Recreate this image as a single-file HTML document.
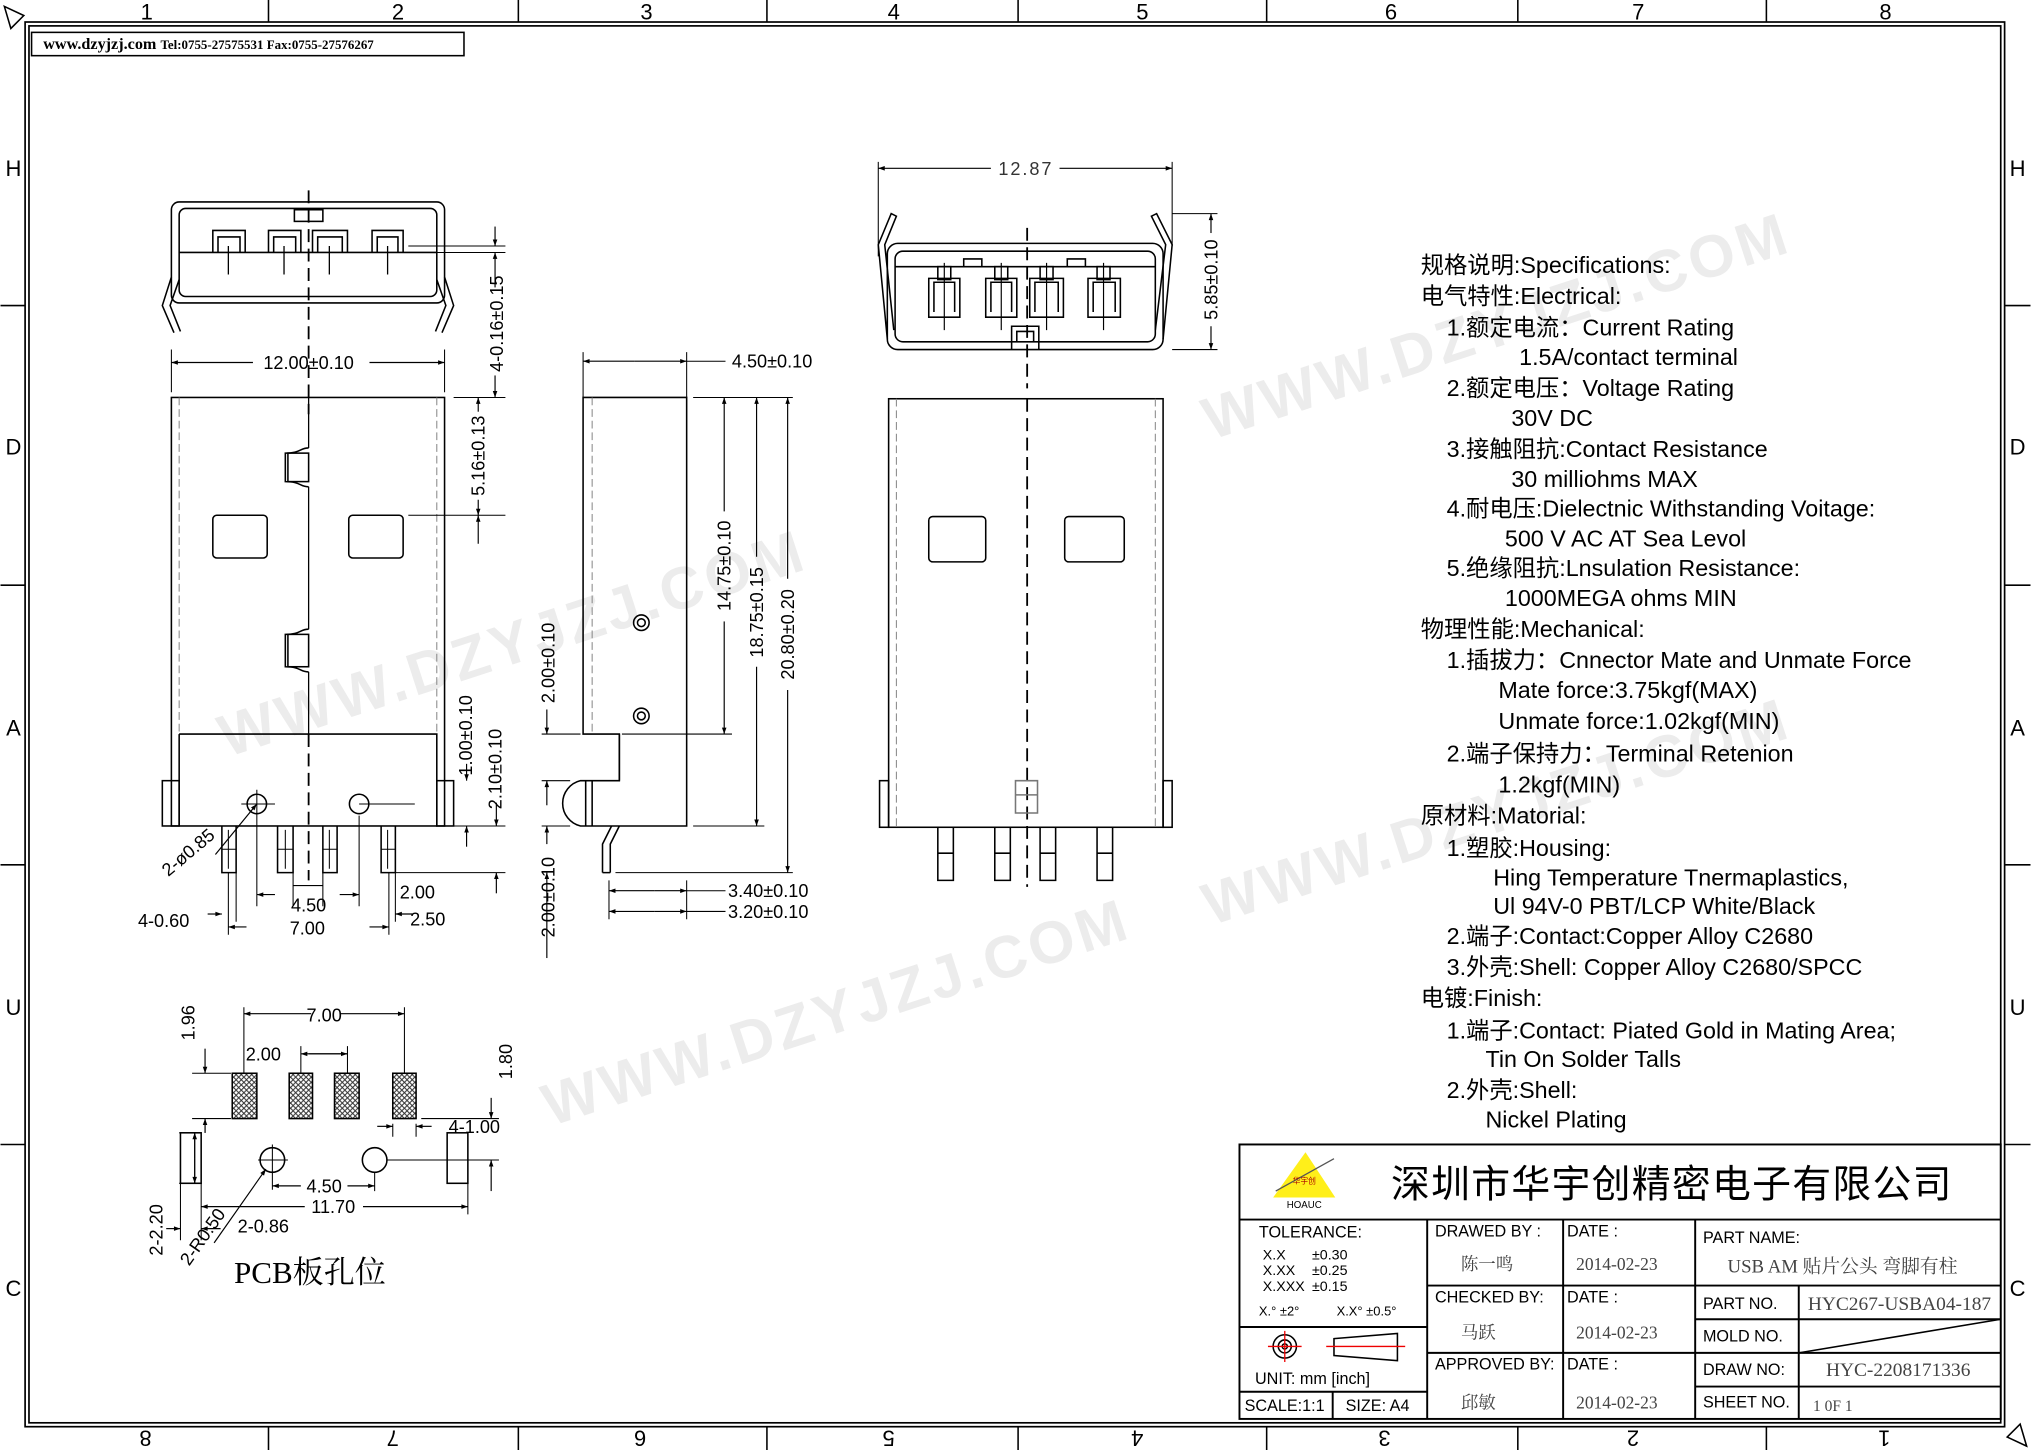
<!DOCTYPE html>
<html><head><meta charset="utf-8"><style>
html,body{margin:0;padding:0;background:#fff;}
svg{display:block;}
text{font-family:"Liberation Sans","Noto Sans CJK SC",sans-serif;}
text.s,.s text{font-family:"Liberation Serif","Noto Serif CJK SC",serif;}
</style></head><body>
<svg width="2031" height="1450" viewBox="0 0 1568 1120" xmlns="http://www.w3.org/2000/svg">
<defs>
<marker id="a" viewBox="0 0 10 10" refX="10" refY="5" markerWidth="8" markerHeight="5" orient="auto" markerUnits="userSpaceOnUse"><path d="M0,1.5 L10,5 L0,8.5z" fill="#000"/></marker>
<pattern id="h" width="4" height="4" patternUnits="userSpaceOnUse"><rect width="4" height="4" fill="#fff"/><path d="M0,4 L4,0 M0,0 L4,4" stroke="#333" stroke-width="0.8"/></pattern>
</defs>
<!-- watermarks -->
<g fill="#ececec" font-size="46" font-weight="bold" font-family="Liberation Sans,sans-serif" letter-spacing="3">
<text x="175" y="585" transform="rotate(-18 175 585)">WWW.DZYJZJ.COM</text>
<text x="935" y="340" transform="rotate(-18 935 340)">WWW.DZYJZJ.COM</text>
<text x="935" y="715" transform="rotate(-18 935 715)">WWW.DZYJZJ.COM</text>
<text x="425" y="870" transform="rotate(-18 425 870)">WWW.DZYJZJ.COM</text>
</g>
<!-- frame -->
<g stroke="#000" fill="none">
<rect x="19" y="17" width="1529" height="1085" stroke-width="1.3"/>
<rect x="22" y="20" width="1523" height="1079" stroke-width="1.3"/>
<path d="M207,0V17 M400,0V17 M592,0V17 M786,0V17 M978,0V17 M1172,0V17 M1364,0V17 M207,1102V1120 M400,1102V1120 M592,1102V1120 M786,1102V1120 M978,1102V1120 M1172,1102V1120 M1364,1102V1120 M0,236H19 M0,452H19 M0,668H19 M0,884H19 M1548,236H1568 M1548,452H1568 M1548,668H1568 M1548,884H1568" stroke-width="1.2"/>
<path d="M3,5 L18,12 L8,22z M1565,1117 L1550,1110 L1560,1100z" stroke-width="1.2"/>
</g>
<g font-size="17" text-anchor="middle" fill="#000">
<text x="113" y="15">1</text><text x="307" y="15">2</text><text x="499" y="15">3</text><text x="690" y="15">4</text><text x="882" y="15">5</text><text x="1074" y="15">6</text><text x="1265" y="15">7</text><text x="1456" y="15">8</text>
<g transform="rotate(180 784 1111)"><text x="113" y="1117">1</text><text x="307" y="1117">2</text><text x="499" y="1117">3</text><text x="690" y="1117">4</text><text x="882" y="1117">5</text><text x="1074" y="1117">6</text><text x="1265" y="1117">7</text><text x="1456" y="1117">8</text></g>
<text x="10" y="136">H</text><text x="10" y="351">D</text><text x="10" y="568">A</text><text x="10" y="784">U</text><text x="10" y="1001">C</text>
<text x="1558" y="136">H</text><text x="1558" y="351">D</text><text x="1558" y="568">A</text><text x="1558" y="784">U</text><text x="1558" y="1001">C</text>
</g>
<rect x="24" y="25" width="334" height="18" fill="#fff" stroke="#000" stroke-width="1.2"/>
<text x="33" y="38" class="s" font-size="12.5" font-weight="bold">www.dzyjzj.com <tspan font-size="10">Tel:0755-27575531  Fax:0755-27576267</tspan></text>

<!-- ===== VIEW 1 ===== -->
<g stroke="#000" fill="none" stroke-width="1.2">
<rect x="132" y="156" width="211" height="78" rx="6"/>
<rect x="138" y="161" width="199" height="68" rx="5"/>
<path d="M138,195H337"/>
<rect x="227" y="162" width="22" height="9"/>
<path d="M164,195V178H189V195 M168,195V183H185V195 M207,195V178H232V195 M211,195V183H228V195 M241,195V178H268V195 M245,195V183H264V195 M287,195V178H311V195 M291,195V183H307V195"/>
<path d="M176,190V212 M219,190V212 M254,190V212 M299,190V212" stroke-width="1"/>
<path d="M132,214 L125,236 L134,257 M138,216 L131,236 L139,256 M343,214 L350,236 L341,257 M337,216 L344,236 L336,256"/>
<path d="M238,147V320" stroke-dasharray="10,5" stroke-width="1.4"/>
<rect x="132" y="307" width="211" height="331"/>
<path d="M138,307V567 M337,307V567" stroke="#888" stroke-dasharray="6,3" stroke-width="0.8"/>
<path d="M138,567H337V638 M138,567V638"/>
<rect x="125" y="603" width="13" height="35"/><rect x="337" y="603" width="13" height="35"/>
<path d="M238,307V346 M238,376V486 M238,519V567" stroke-width="1"/>
<path d="M238,346 C231,346 232,350 220,350 V372 C232,372 231,376 238,376 M238,486 C231,486 232,490 220,490 V515 C232,515 231,519 238,519"/>
<rect x="222" y="350" width="16" height="22"/><rect x="222" y="490" width="16" height="25"/>
<rect x="164" y="398" width="42" height="33" rx="3"/><rect x="269" y="398" width="42" height="33" rx="3"/>
<path d="M238,567V680" stroke-dasharray="10,5" stroke-width="1.4"/>
<circle cx="198" cy="621" r="7.5"/><circle cx="277" cy="621" r="7.5"/>
<path d="M186,621H212 M198,610V700 M277,630V700 M277,621H320" stroke-width="0.8"/>
<path d="M171,638V674H182V638 M214,638V674H226V638 M249,638V674H260V638 M294,638V674H305V638"/>
<path d="M171,656H182 M214,656H226 M249,656H260 M294,656H305 M176,641V671 M220,641V671 M254,641V671 M299,641V671" stroke-width="0.8"/>
<path d="M132,270V303 M343,270V303" stroke-width="0.8"/>
<path d="M315,190H390 M315,195H390 M350,307H390 M315,398H390 M350,638H390 M305,674H390" stroke-width="0.8"/>
<path d="M176,674V722 M182,674V712 M226,674V700 M249,674V700 M300,674V722 M305,674V712" stroke-width="0.8"/>
<path d="M226,684H249" stroke-width="0.9"/>
</g>
<g stroke="#000" stroke-width="0.9" marker-end="url(#a)">
<line x1="195" y1="280" x2="132" y2="280"/><line x1="285" y1="280" x2="343" y2="280"/>
<line x1="382" y1="175" x2="382" y2="190"/><line x1="382" y1="222" x2="382" y2="195"/>
<line x1="382" y1="290" x2="382" y2="307"/><line x1="369" y1="318" x2="369" y2="307"/>
<line x1="369" y1="386" x2="369" y2="398"/><line x1="369" y1="420" x2="369" y2="398"/>
<line x1="360" y1="590" x2="360" y2="603"/><line x1="360" y1="654" x2="360" y2="638"/>
<line x1="383" y1="620" x2="383" y2="638"/><line x1="383" y1="690" x2="383" y2="674"/>
<line x1="212" y1="691" x2="198" y2="691"/><line x1="262" y1="691" x2="277" y2="691"/>
<line x1="190" y1="716" x2="176" y2="716"/><line x1="285" y1="716" x2="300" y2="716"/>
<line x1="160" y1="706" x2="171" y2="706"/><line x1="318" y1="706" x2="305" y2="706"/>
<line x1="166" y1="660" x2="198" y2="621"/>
</g>
<g font-size="14" fill="#000" text-anchor="middle">
<text x="238" y="285">12.00±0.10</text>
<text transform="translate(388,250) rotate(-90)">4-0.16±0.15</text>
<text transform="translate(374,352) rotate(-90)">5.16±0.13</text>
<text transform="translate(364,568) rotate(-90)">1.00±0.10</text>
<text transform="translate(387,594) rotate(-90)">2.10±0.10</text>
<text x="322" y="694">2.00</text><text x="238" y="704">4.50</text><text x="330" y="715">2.50</text><text x="237" y="722">7.00</text><text x="126" y="716">4-0.60</text>
<text transform="translate(148,662) rotate(-40)">2-ø0.85</text>
</g>

<!-- ===== VIEW 2 side ===== -->
<g stroke="#000" fill="none" stroke-width="1.2">
<path d="M450,307H530V638H448 A18,18 0 0 1 448,603 H478 V567 H450 Z"/>
<path d="M457,307V567" stroke="#888" stroke-dasharray="6,3" stroke-width="0.8"/>
<path d="M478,567V603 M452,603V638 M457,603V638"/>
<path d="M478,638 L471,652 V674 M472,638 L465,652 V674 M465,674H471"/>
<circle cx="495" cy="481" r="6"/><circle cx="495" cy="481" r="3"/>
<circle cx="495" cy="553" r="6"/><circle cx="495" cy="553" r="3"/>
<path d="M450,272V307 M530,272V307 M535,307H612 M535,638H590 M480,567H565 M475,674H612 M418,567H448 M418,603H440 M418,638H440 M470,680V710 M530,680V710" stroke-width="0.8"/>
<path d="M530,279H560 M530,688H560 M530,704H560" stroke-width="0.8"/>
</g>
<g stroke="#000" stroke-width="0.9" marker-end="url(#a)">
<line x1="490" y1="279" x2="450" y2="279"/><line x1="490" y1="279" x2="530" y2="279"/>
<line x1="559" y1="395" x2="559" y2="307"/><line x1="559" y1="480" x2="559" y2="567"/>
<line x1="584" y1="430" x2="584" y2="307"/><line x1="584" y1="515" x2="584" y2="638"/>
<line x1="608" y1="447" x2="608" y2="307"/><line x1="608" y1="533" x2="608" y2="674"/>
<line x1="422" y1="548" x2="422" y2="567"/><line x1="422" y1="622" x2="422" y2="603"/>
<line x1="422" y1="652" x2="422" y2="638"/><line x1="422" y1="740" x2="422" y2="674"/>
<line x1="505" y1="688" x2="470" y2="688"/><line x1="505" y1="688" x2="530" y2="688"/>
<line x1="505" y1="704" x2="470" y2="704"/><line x1="505" y1="704" x2="530" y2="704"/>
</g>
<g font-size="14" fill="#000" text-anchor="middle">
<text x="596" y="284">4.50±0.10</text>
<text transform="translate(564,437) rotate(-90)">14.75±0.10</text>
<text transform="translate(589,473) rotate(-90)">18.75±0.15</text>
<text transform="translate(613,490) rotate(-90)">20.80±0.20</text>
<text transform="translate(428,512) rotate(-90)">2.00±0.10</text>
<text transform="translate(428,693) rotate(-90)">2.00±0.10</text>
<text x="593" y="693">3.40±0.10</text><text x="593" y="709">3.20±0.10</text>
</g>

<!-- ===== VIEW 3 ===== -->
<g stroke="#000" fill="none" stroke-width="1.2">
<rect x="685" y="188" width="213" height="82" rx="8"/>
<rect x="691" y="194" width="201" height="70" rx="6"/>
<path d="M691,206H892"/>
<path d="M744,206V200H758V206 M824,206V200H838V206"/>
<path d="M685,262 L678,189 L688,165 L692,167 L683,189 L690,255 M898,262 L905,189 L893,165 L889,167 L900,189 L892,255"/>
<path d="M717,245V215H741V245Z M721,241V218H737V241 M761,245V215H785V245Z M765,241V218H781V241 M795,245V215H821V245Z M799,241V218H817V241 M840,245V215H865V245Z M844,241V218H861V241"/>
<path d="M724,206H734V216H724Z M768,206H778V216H768Z M803,206H813V216H803Z M847,206H857V216H847Z"/>
<path d="M729,203V255 M773,203V255 M808,203V255 M852,203V255" stroke-width="0.9"/>
<path d="M781,270V252H802V270 M785,264V256H798V264"/>
<path d="M793,176V300" stroke-dasharray="10,5" stroke-width="1.4"/>
<rect x="686" y="308" width="212" height="331"/>
<path d="M692,308V639 M892,308V639" stroke="#888" stroke-dasharray="6,3" stroke-width="0.8"/>
<rect x="679" y="603" width="7" height="36"/><rect x="898" y="603" width="7" height="36"/>
<rect x="717" y="399" width="44" height="35" rx="3"/><rect x="822" y="399" width="46" height="35" rx="3"/>
<path d="M793,308V685" stroke-dasharray="10,5" stroke-width="1.4"/>
<path d="M784,603H801V628H784Z M784,614H801" stroke="#777"/>
<path d="M724,639V680H736V639 M768,639V680H780V639 M803,639V680H815V639 M847,639V680H859V639 M724,659H736 M768,659H780 M803,659H815 M847,659H859"/>
<path d="M678,125V198 M905,125V190 M905,165H940 M905,270H940" stroke-width="0.8"/>
</g>
<g stroke="#000" stroke-width="0.9" marker-end="url(#a)">
<line x1="765" y1="130" x2="678" y2="130"/><line x1="818" y1="130" x2="905" y2="130"/>
<line x1="935" y1="180" x2="935" y2="165"/><line x1="935" y1="252" x2="935" y2="270"/>
</g>
<text x="792" y="135" font-size="14" text-anchor="middle" fill="#333" letter-spacing="1.5">12.87</text>
<text transform="translate(940,216) rotate(-90)" font-size="14" text-anchor="middle">5.85±0.10</text>

<!-- ===== PCB ===== -->
<g stroke="#000" fill="none" stroke-width="1.2">
<rect x="179" y="829" width="19" height="35" fill="url(#h)"/>
<rect x="223" y="829" width="18" height="35" fill="url(#h)"/>
<rect x="258" y="829" width="19" height="35" fill="url(#h)"/>
<rect x="303" y="829" width="18" height="35" fill="url(#h)"/>
<rect x="139" y="875" width="16" height="39"/><rect x="345" y="875" width="16" height="39"/>
<circle cx="210" cy="896" r="9.5"/><circle cx="289" cy="896" r="9.5"/>
<path d="M199,896H222 M210,884V919 M289,905V920 M298,896H385 M188,778V829 M312,778V829 M232,808V829 M268,808V829 M148,829H178 M148,864H178 M325,864H385 M303,868V878 M321,868V878 M138,875H155 M138,914H155 M361,914V938 M155,914V938 M139,914V958 M155,914V958" stroke-width="0.8"/>
<path d="M150,875V914 M158,864V875" stroke-width="0.8"/>
</g>
<g stroke="#000" stroke-width="0.9" marker-end="url(#a)">
<line x1="240" y1="783" x2="188" y2="783"/><line x1="262" y1="783" x2="312" y2="783"/>
<line x1="238" y1="814" x2="268" y2="814"/><line x1="268" y1="814" x2="232" y2="814"/>
<line x1="158" y1="810" x2="158" y2="829"/><line x1="158" y1="875" x2="158" y2="864"/>
<line x1="379" y1="848" x2="379" y2="864"/><line x1="379" y1="920" x2="379" y2="896"/>
<line x1="291" y1="870" x2="303" y2="870"/><line x1="333" y1="870" x2="321" y2="870"/>
<line x1="150" y1="895" x2="150" y2="875"/><line x1="150" y1="895" x2="150" y2="914"/>
<line x1="232" y1="916" x2="210" y2="916"/><line x1="268" y1="916" x2="289" y2="916"/>
<line x1="235" y1="932" x2="155" y2="932"/><line x1="280" y1="932" x2="361" y2="932"/>
<line x1="128" y1="949" x2="139" y2="949"/><line x1="170" y1="949" x2="155" y2="949"/>
<line x1="165" y1="960" x2="205" y2="903"/>
</g>
<g font-size="14" fill="#000" text-anchor="middle">
<text x="250" y="789">7.00</text><text x="203" y="819">2.00</text>
<text transform="translate(150,790) rotate(-90)">1.96</text>
<text transform="translate(395,820) rotate(-90)">1.80</text>
<text x="366" y="875">4-1.00</text><text x="250" y="921">4.50</text><text x="257" y="937">11.70</text><text x="203" y="952">2-0.86</text>
<text transform="translate(125,950) rotate(-90)">2-2.20</text>
<text transform="translate(160,958) rotate(-55)">2-R0.50</text>
</g>
<text x="239" y="991" class="s" font-size="24" text-anchor="middle">PCB板孔位</text>

<!-- ===== Specs ===== -->
<g font-size="18" fill="#000">
<text x="1097" y="211">规格说明:Specifications:</text>
<text x="1097" y="235">电气特性:Electrical:</text>
<text x="1117" y="259">1.额定电流：Current Rating</text>
<text x="1173" y="282">1.5A/contact terminal</text>
<text x="1117" y="306">2.额定电压：Voltage Rating</text>
<text x="1167" y="329">30V DC</text>
<text x="1117" y="353">3.接触阻抗:Contact Resistance</text>
<text x="1167" y="376">30 milliohms MAX</text>
<text x="1117" y="399">4.耐电压:Dielectnic Withstanding Voitage:</text>
<text x="1162" y="422">500 V AC AT Sea Levol</text>
<text x="1117" y="445">5.绝缘阻抗:Lnsulation Resistance:</text>
<text x="1162" y="468">1000MEGA ohms MIN</text>
<text x="1097" y="492">物理性能:Mechanical:</text>
<text x="1117" y="516">1.插拔力：Cnnector Mate and Unmate Force</text>
<text x="1157" y="539">Mate force:3.75kgf(MAX)</text>
<text x="1157" y="563">Unmate force:1.02kgf(MIN)</text>
<text x="1117" y="588">2.端子保持力：Terminal Retenion</text>
<text x="1157" y="612">1.2kgf(MIN)</text>
<text x="1097" y="636">原材料:Matorial:</text>
<text x="1117" y="661">1.塑胶:Housing:</text>
<text x="1153" y="684">Hing Temperature  Tnermaplastics,</text>
<text x="1153" y="706">Ul 94V-0  PBT/LCP White/Black</text>
<text x="1117" y="729">2.端子:Contact:Copper Alloy C2680</text>
<text x="1117" y="753">3.外壳:Shell: Copper Alloy C2680/SPCC</text>
<text x="1097" y="777">电镀:Finish:</text>
<text x="1117" y="802">1.端子:Contact: Piated Gold in Mating Area;</text>
<text x="1147" y="824">Tin On Solder Talls</text>
<text x="1117" y="848">2.外壳:Shell:</text>
<text x="1147" y="871">Nickel Plating</text>
</g>

<!-- ===== Title block ===== -->
<rect x="957" y="884" width="588" height="212" fill="#fff"/>
<g stroke="#000" fill="none" stroke-width="1.5">
<rect x="957" y="884" width="588" height="212"/>
<path d="M957,942H1545 M1102,942V1096 M1207,942V1096 M1309,942V1096 M1389,993V1096 M957,1025H1102 M957,1075H1102 M1029,1075V1096 M1102,993H1309 M1102,1045H1309 M1309,993H1545 M1309,1019H1545 M1309,1045H1545 M1309,1071H1545"/>
<path d="M1389,1045 L1545,1019" stroke-width="1.2"/>
</g>
<path d="M1008,890 L983,925 L1031,925z" fill="#ffef1a"/>
<path d="M985,920 L1030,895" stroke="#555" stroke-width="1" fill="none"/>
<text x="1007" y="914" font-size="6" text-anchor="middle" fill="#a00">华宇创</text>
<text x="1007" y="933" font-size="7.5" text-anchor="middle">HOAUC</text>
<text x="1291" y="925" font-size="30" text-anchor="middle" letter-spacing="1">深圳市华宇创精密电子有限公司</text>
<g font-size="12.5" fill="#000">
<text x="972" y="956">TOLERANCE:</text>
<text x="975" y="973" font-size="11">X.X</text><text x="1013" y="973" font-size="11">±0.30</text>
<text x="975" y="985" font-size="11">X.XX</text><text x="1013" y="985" font-size="11">±0.25</text>
<text x="975" y="997" font-size="11">X.XXX</text><text x="1013" y="997" font-size="11">±0.15</text>
<text x="972" y="1016" font-size="10">X.° ±2°</text><text x="1032" y="1016" font-size="10">X.X° ±0.5°</text>
<text x="969" y="1069">UNIT:  mm  [inch]</text>
<text x="961" y="1090">SCALE:1:1</text><text x="1039" y="1090">SIZE:  A4</text>
<text x="1108" y="955">DRAWED  BY :</text><text x="1210" y="955">DATE  :</text>
<text x="1108" y="1006">CHECKED  BY:</text><text x="1210" y="1006">DATE  :</text>
<text x="1108" y="1058">APPROVED  BY:</text><text x="1210" y="1058">DATE  :</text>
<text x="1315" y="960">PART  NAME:</text>
<text x="1315" y="1011">PART  NO.</text><text x="1315" y="1036">MOLD  NO.</text><text x="1315" y="1062">DRAW  NO:</text><text x="1315" y="1087">SHEET  NO.</text>
</g>
<g class="s" font-size="13.5" fill="#444">
<text x="1128" y="981">陈一鸣</text><text x="1128" y="1034">马跃</text><text x="1128" y="1088">邱敏</text>
<text x="1217" y="981">2014-02-23</text><text x="1217" y="1034">2014-02-23</text><text x="1217" y="1088">2014-02-23</text>
<text x="1334" y="983" font-size="14.5">USB  AM  贴片公头  弯脚有柱</text>
<text x="1396" y="1012" font-size="15">HYC267-USBA04-187</text>
<text x="1410" y="1063" font-size="15">HYC-2208171336</text>
<text x="1400" y="1090" font-size="12">1  0F  1</text>
</g>
<g stroke="#000" fill="none" stroke-width="1.2">
<circle cx="992" cy="1040" r="9"/><circle cx="992" cy="1040" r="5"/><circle cx="992" cy="1040" r="2"/>
<path d="M1030,1034 L1079,1030 V1051 L1030,1047Z"/>
</g>
<path d="M979,1040H1005 M992,1028V1052 M1024,1040H1085" stroke="#e00" stroke-width="1"/>
</svg>
</body></html>
